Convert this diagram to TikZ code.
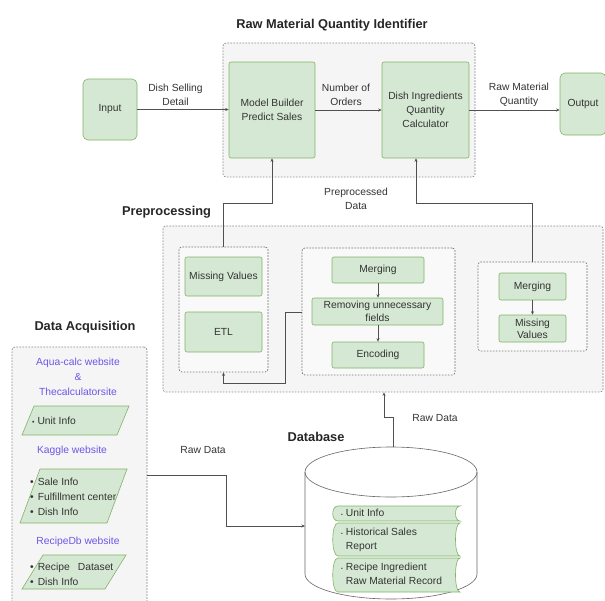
\documentclass[tikz,border=0pt]{standalone}
\usepackage{fontspec}
\setmainfont{Liberation Sans}
\usetikzlibrary{arrows.meta}
\definecolor{gfill}{HTML}{D5E8D4}
\definecolor{gline}{HTML}{82B366}
\definecolor{cfill}{HTML}{F5F5F5}
\definecolor{cline}{HTML}{8A8A8A}
\definecolor{txt}{HTML}{333333}
\definecolor{purp}{HTML}{6E55E8}
\definecolor{edge}{HTML}{505050}
\begin{document}
\begin{tikzpicture}[x=1pt,y=-1pt,
  font=\fontsize{10.3}{14}\selectfont, text=txt,
  gbox/.style={draw=gline, fill=gfill, rounded corners=2pt, line width=0.6pt, align=center, inner sep=1pt},
  ibox/.style={gbox, rounded corners=5pt},
  cont/.style={draw=cline, fill=cfill, dash pattern=on 1.6pt off 1.4pt, line width=0.7pt, rounded corners=3pt},
  subcont/.style={cont, draw=cline!85!black, fill=cfill!60!white},
  ttl/.style={font=\fontsize{12.8}{15}\selectfont\bfseries, text=black!85},
  lbl/.style={align=center, text=txt},
  conn/.style={draw=edge, line width=0.6pt},
  arr/.style={conn, -{Stealth[length=3.5pt,width=3pt]}},
  purplbl/.style={text=purp, align=center, font=\fontsize{10.3}{15}\selectfont},
  shp/.style={draw=gline, fill=gfill, line width=0.6pt},
  dbline/.style={draw=black!60, line width=0.6pt}
]
\clip (0,0) rectangle (605,600);

% ---------------- Raw Material Quantity Identifier ----------------
\node[ttl] (t1) at (332,25) {Raw Material Quantity Identifier};
\node[cont, minimum width=252pt, minimum height=134pt] (rmqi) at (349,110) {};
\node[gbox, minimum width=86pt, minimum height=96pt] (mb) at (272,110) {Model Builder\\Predict Sales};
\node[gbox, minimum width=87pt, minimum height=96pt] (di) at (425.5,110) {Dish Ingredients\\Quantity\\Calculator};
\node[ibox, minimum width=54pt, minimum height=61pt] (input) at (110,109.5) {Input};
\node[ibox, minimum width=46pt, minimum height=62pt] (output) at (583,104) {Output};

\draw[arr] (input.east) -- (mb.west |- input.east);
\draw[arr] (mb.east) -- (di.west);
\draw[arr] (di.east) -- (di.east -| output.west);
\node[lbl] (l1) at (175.5,95) {Dish Selling\\Detail};
\node[lbl] (l2) at (346,95) {Number of\\Orders};
\node[lbl] (l3) at (519,95) {Raw Material\\Quantity};
\node[lbl] (l4) at (356,199) {Preprocessed\\Data};

% ---------------- Preprocessing ----------------
\node[ttl] (t2) at (166.5,212) {Preprocessing};
\node[cont, minimum width=440pt, minimum height=166pt] (prep) at (383,309) {};
\node[subcont, minimum width=89pt, minimum height=125pt] (lic) at (223.5,309.5) {};
\node[gbox, minimum width=77pt, minimum height=39pt] (mv) at (223.5,276.5) {Missing Values};
\node[gbox, minimum width=77pt, minimum height=40pt] (etl) at (223.5,332) {ETL};

\node[subcont, minimum width=153pt, minimum height=127pt] (mid) at (378.5,311.5) {};
\node[gbox, minimum width=92pt, minimum height=26pt] (merg) at (378,270) {Merging};
\node[gbox, minimum width=131pt, minimum height=27pt] (remv) at (377.5,311.5) {Removing unnecessary\\[-1.5pt]fields};
\node[gbox, minimum width=92pt, minimum height=26pt] (enc) at (378,355) {Encoding};
\draw[arr] (merg.south) -- (remv.north -| merg.south);
\draw[arr] (remv.south -| merg.south) -- (enc.north);

\node[subcont, minimum width=109pt, minimum height=89pt] (ric) at (532.5,306.5) {};
\node[gbox, minimum width=67pt, minimum height=27pt] (merg2) at (532.5,286.5) {Merging};
\node[gbox, minimum width=67pt, minimum height=27pt] (mv2) at (532.5,328.5) {Missing\\[-2pt]Values};
\draw[arr] (merg2.south) -- (mv2.north);

\draw[arr] (lic.north) -- (lic.north |- 0,203) -- (mb.south |- 0,203) -- (mb.south);
\draw[arr] (ric.north) -- (ric.north |- 0,203) -- (416,203) -- (di.south -| 416,0);
\draw[arr] (mid.west |- 0,312) -- (285,312) -- (285,383) -- (lic.south |- 0,383) -- (lic.south);

% ---------------- Data Acquisition ----------------
\node[ttl] (t3) at (85,327) {Data Acquisition};
\node[cont, minimum width=135pt, minimum height=263pt] (da) at (79.5,478.5) {};
\node[purplbl] (src1) at (78,377) {Aqua-calc website\\\&\\Thecalculatorsite};
\path[shp] (34,406) -- (129,406) -- (117,435) -- (22,435) -- cycle;
\node[anchor=west, inner sep=0pt] (p1) at (32,420.5) {{\scriptsize\textbullet}\ Unit Info};
\node[purplbl] (src2) at (72,451) {Kaggle website};
\path[shp] (40,469) -- (127,469) -- (107,523) -- (20,523) -- cycle;
\node[anchor=west, inner sep=0pt, font=\fontsize{10.3}{15}\selectfont] (p2) at (30,497)
  {\begin{tabular}{@{}l@{\hspace{4pt}}l@{}}\textbullet & Sale Info\\ \textbullet & Fulfillment center\\ \textbullet & Dish Info\end{tabular}};
\node[purplbl] (src3) at (78,542) {RecipeDb website};
\path[shp] (43,555) -- (126,555) -- (105,589) -- (22,589) -- cycle;
\node[anchor=west, inner sep=0pt, font=\fontsize{10.3}{15}\selectfont] (p3) at (30,574.5)
  {\begin{tabular}{@{}l@{\hspace{4pt}}l@{}}\textbullet & Recipe\hspace{8pt}Dataset\\ \textbullet & Dish Info\end{tabular}};

% ---------------- Database ----------------
\node[ttl] (t4) at (316,437) {Database};
\path[dbline, fill=white]
  (305,472) -- (305,574)
  .. controls (305,587.8) and (343.5,599) .. (391,599)
  .. controls (438.5,599) and (477,587.8) .. (477,574)
  -- (477,472)
  .. controls (477,458.2) and (438.5,447) .. (391,447)
  .. controls (343.5,447) and (305,458.2) .. (305,472) -- cycle;
\path[dbline]
  (305,472) .. controls (305,485.8) and (343.5,497) .. (391,497)
  .. controls (438.5,497) and (477,485.8) .. (477,472);
\coordinate (dbtop) at (393,447);
\coordinate (dbleft) at (305,526);

\path[shp] (338,506) -- (460,506) .. controls (454,506) and (454,521) .. (460,521) -- (338,521) .. controls (331,521) and (331,506) .. (338,506) -- cycle;
\path[shp] (338,523) -- (460,523) .. controls (454,523) and (454,556) .. (460,556) -- (338,556) .. controls (331,556) and (331,523) .. (338,523) -- cycle;
\path[shp] (338,558) -- (460,558) .. controls (454,558) and (454,592) .. (460,592) -- (338,592) .. controls (331,592) and (331,558) .. (338,558) -- cycle;
\node[anchor=west, inner sep=0pt] (d1) at (341,513.5)
  {\begin{tabular}{@{}l@{\hspace{3pt}}l@{}}{\tiny\textbullet} & Unit Info\end{tabular}};
\node[anchor=west, inner sep=0pt] (d2) at (341,539.5)
  {\begin{tabular}{@{}l@{\hspace{3pt}}l@{}}{\tiny\textbullet} & Historical Sales\\ & Report\end{tabular}};
\node[anchor=west, inner sep=0pt] (d3) at (341,575)
  {\begin{tabular}{@{}l@{\hspace{3pt}}l@{}}{\tiny\textbullet} & Recipe Ingredient\\ & Raw Material Record\end{tabular}};

\draw[arr] (dbtop) -- (393,417) -- (384,417) -- (prep.south -| 384,0);
\draw[arr] (da.east |- 0,475) -- (226,475) -- (226,526) -- (dbleft);
\node[lbl] (rd1) at (203,450) {Raw Data};
\node[lbl] (rd2) at (435,418) {Raw Data};
\end{tikzpicture}
\end{document}
